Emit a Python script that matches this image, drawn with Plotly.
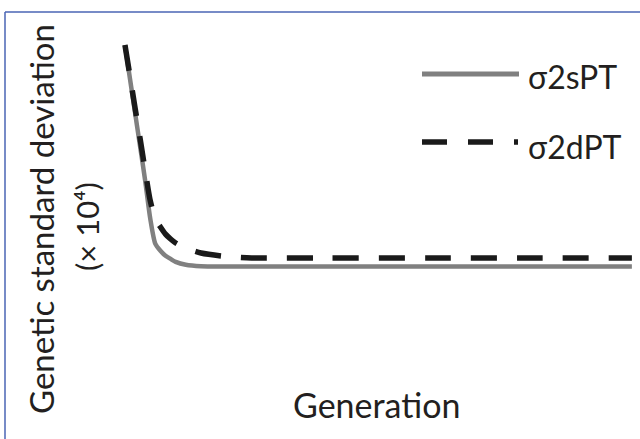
import plotly.graph_objects as go

# Data
gen_solid = [0, 1, 2, 3, 4, 5, 6, 7, 8, 9, 10, 12, 15, 20, 40, 60, 80, 100]
sd_solid = [10.0, 8.61, 7.23, 5.85, 4.46, 2.92, 1.90, 1.62, 1.42, 1.29, 1.17, 1.05, 0.99, 0.98, 0.98, 0.98, 0.98, 0.98]
gen_dashed = [0, 1, 2, 3, 4, 5, 6, 7, 8, 9, 10, 12, 15, 20, 25, 40, 60, 80, 100]
sd_dashed = [10.0, 8.72, 7.43, 6.17, 4.87, 3.65, 2.92, 2.59, 2.30, 2.10, 1.94, 1.73, 1.53, 1.39, 1.33, 1.33, 1.33, 1.33, 1.33]
series_names = ["σ2sPT", "σ2dPT"]

W, H = 640, 439
FONT = "Lato"
TXT = "#231f20"

fig = go.Figure()
fig.add_trace(go.Scatter(x=gen_solid, y=sd_solid, mode="lines", name=series_names[0],
                         line=dict(color="#808080", width=4.5, shape="spline", smoothing=0.7)))
fig.add_trace(go.Scatter(x=gen_dashed, y=sd_dashed, mode="lines", name=series_names[1],
                         line=dict(color="#1a1a1a", width=5.5, dash="26px,20px", shape="spline", smoothing=0.7)))

def px(x):
    return x / W

def py(y):
    return 1 - y / H

shapes = [
    # frame (top and left)
    dict(type="line", xref="paper", yref="paper", x0=px(5), y0=py(12), x1=1.01, y1=py(12),
         line=dict(color="#4a64b4", width=1.5)),
    dict(type="line", xref="paper", yref="paper", x0=px(5), y0=py(12), x1=px(5), y1=-0.01,
         line=dict(color="#4a64b4", width=1.5)),
    # legend samples
    dict(type="line", xref="paper", yref="paper", x0=px(422), y0=py(74), x1=px(519), y1=py(74),
         line=dict(color="#808080", width=5)),
    dict(type="line", xref="paper", yref="paper", x0=px(422), y0=py(142), x1=px(518), y1=py(142),
         line=dict(color="#1a1a1a", width=5.5, dash="25px,21px")),
]

annotations = [
    dict(text="Generation", x=px(376), y=py(404), xref="paper", yref="paper", showarrow=False,
         xanchor="center", yanchor="middle", font=dict(family=FONT, size=34, color=TXT)),
    dict(text="Genetic standard deviation", x=px(41), y=py(219), xref="paper", yref="paper",
         showarrow=False, textangle=-90, xanchor="center", yanchor="middle",
         font=dict(family=FONT, size=33, color=TXT)),
    dict(text="(× 10⁴)", x=px(87), y=py(227), xref="paper", yref="paper",
         showarrow=False, textangle=-90, xanchor="center", yanchor="middle",
         font=dict(family=FONT, size=31, color=TXT)),
    dict(text=series_names[0], x=px(526), y=py(77), xref="paper", yref="paper", showarrow=False,
         xanchor="left", yanchor="middle", font=dict(family=FONT, size=32, color=TXT)),
    dict(text=series_names[1], x=px(526), y=py(146), xref="paper", yref="paper", showarrow=False,
         xanchor="left", yanchor="middle", font=dict(family=FONT, size=32, color=TXT)),
]

# axis ranges map generation 0 -> x=125px, 100 -> ~632px; value 0 -> y~290px
fig.update_layout(
    width=W, height=H, autosize=False,
    margin=dict(l=0, r=0, t=0, b=0),
    paper_bgcolor="white", plot_bgcolor="white",
    showlegend=False,
    xaxis=dict(range=[-24.65, 101.6], visible=False, domain=[0, 1]),
    yaxis=dict(range=[-6.04, 11.83], visible=False, domain=[0, 1]),
    shapes=shapes, annotations=annotations,
)

fig.write_html("out.html", config={"displayModeBar": False},
               post_script="document.body.style.margin='0';document.body.style.padding='0';")
